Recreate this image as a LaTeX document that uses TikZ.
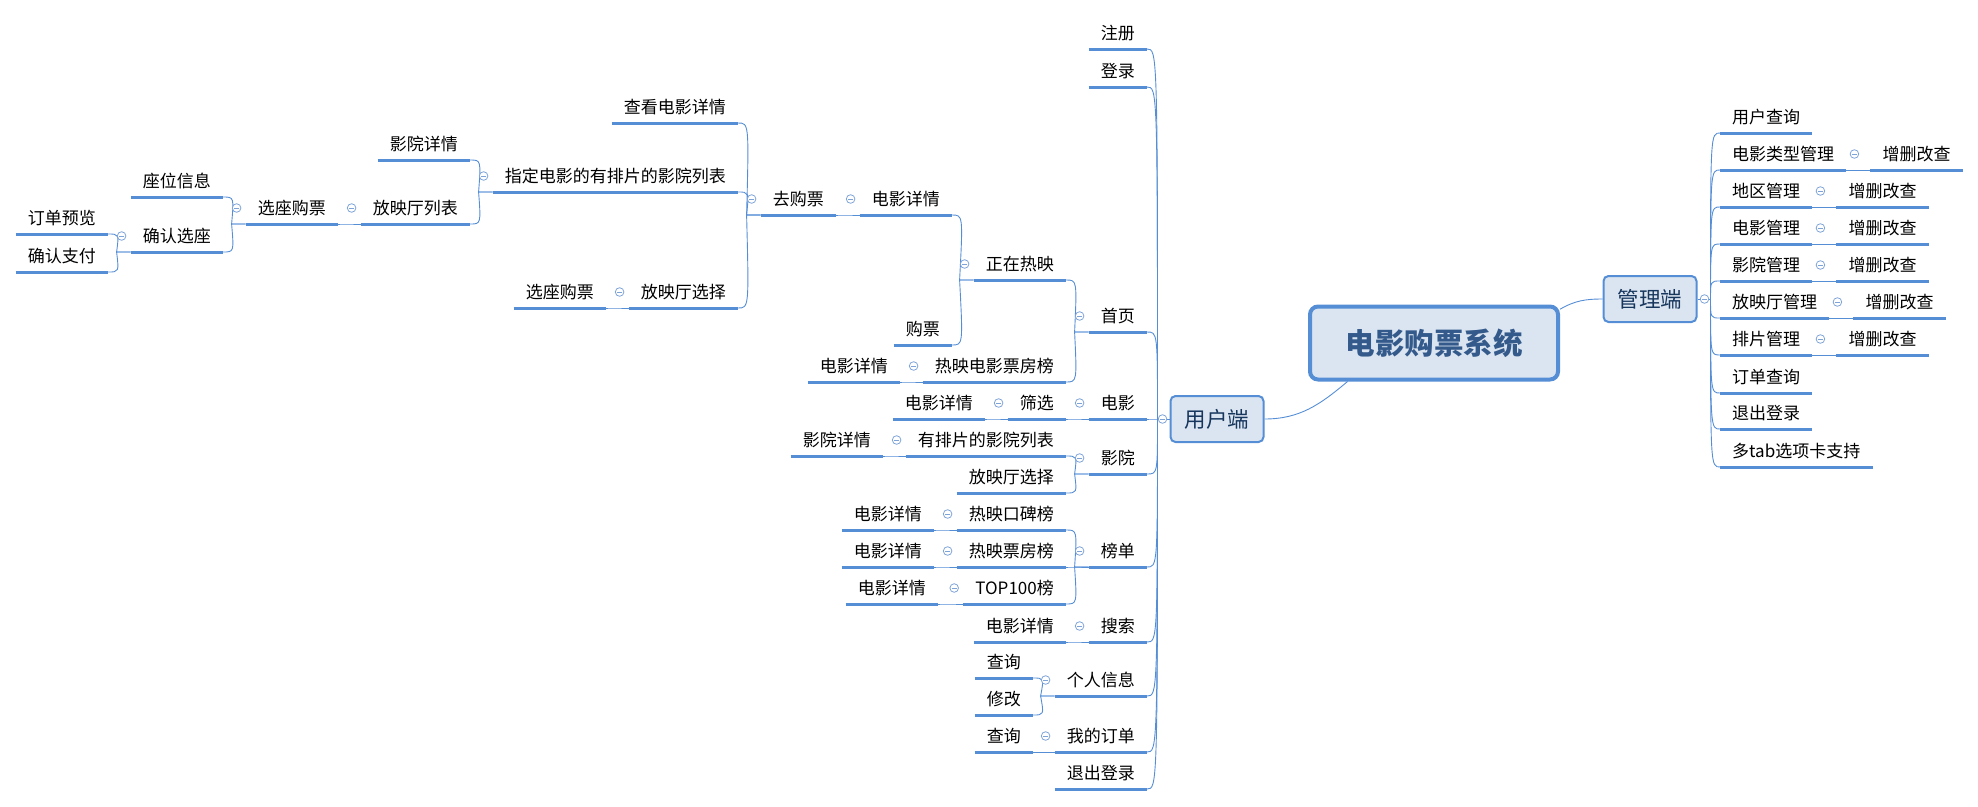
\documentclass[tikz,border=0pt]{standalone}
\usepackage{fontspec}
\setmainfont{Noto Sans CJK SC}

\definecolor{lineblue}{HTML}{558ED5}
\definecolor{boxfill}{HTML}{DBE5F1}
\definecolor{boxtext}{HTML}{17365D}
\definecolor{roottext}{HTML}{345A8C}
\definecolor{foldblue}{HTML}{7EA3D8}

\tikzset{
  topic/.style={font=\fontsize{17}{20}\selectfont, inner xsep=12pt, inner ysep=0pt,
    text height=15pt, text depth=9.5pt,
    append after command={(\tikzlastnode.south west) edge[draw=lineblue, line width=3pt] (\tikzlastnode.south east)}},
  lt/.style={topic, anchor=south east},
  rt/.style={topic, anchor=south west},
  box/.style={draw=lineblue, fill=boxfill, line width=2pt, rounded corners=5pt,
    minimum width=93pt, minimum height=46pt, text=boxtext, font=\fontsize{21.5}{24}\selectfont},
  root/.style={draw=lineblue, fill=boxfill, line width=4pt, rounded corners=8pt,
    minimum width=248pt, minimum height=73pt, text=roottext, font=\fontsize{29.5}{32}\selectfont\bfseries},
  link/.style={draw=lineblue, line width=0.9pt},
  fold/.style={draw=foldblue, line width=0.8pt, fill=white}
}

% collapse mark
\newcommand{\foldat}[1]{\draw[fold] #1 circle (4.3pt); \draw[draw=foldblue, line width=0.8pt] #1 ++(-2.3pt,0) -- ++(4.6pt,0);}
\newcommand{\foldl}[1]{\foldat{([shift={(-9pt,16pt)}]#1.south west)}}
\newcommand{\foldr}[1]{\foldat{([shift={(8pt,16pt)}]#1.south east)}}
% child -> parent, left side
\newcommand{\lk}[2]{\draw[link] (#1.south east) .. controls +(11,0) .. ([xshift=-14pt]#2.south west) -- (#2.south west)}

\begin{document}
\begin{tikzpicture}[x=1pt, y=1pt]
  \useasboundingbox (0,0) rectangle (1978,-806);

  \node[root] (root) at (1434,-343) {电影购票系统};
  \node[box] (usr) at (1217,-419) {用户端};
  \node[box] (adm) at (1650,-299) {管理端};
  \draw[link] (root.204) to[out=220, in=0] (usr.east);
  \draw[link] (root.15) to[out=30, in=180] (adm.west);

  % user side
  \node[lt] (zc) at (1147,-49) {注册};
  \node[lt] (dl) at (1147,-87) {登录};
  \node[lt] (sy) at (1147,-332) {首页};
  \node[lt] (dy) at (1147,-419) {电影};
  \node[lt] (yy) at (1147,-474) {影院};
  \node[lt] (bd) at (1147,-567) {榜单};
  \node[lt] (ss) at (1147,-642) {搜索};
  \node[lt] (gr) at (1147,-696) {个人信息};
  \node[lt] (dd) at (1147,-752) {我的订单};
  \node[lt] (tc) at (1147,-789) {退出登录};

  \node[lt] (zr) at (1066,-280) {正在热映};
  \node[lt] (pf) at (1066,-382) {热映电影票房榜};
  \node[lt] (sx) at (1066,-419) {筛选};
  \node[lt] (pl) at (1066,-456) {有排片的影院列表};
  \node[lt] (tx) at (1066,-493) {放映厅选择};
  \node[lt] (kb) at (1066,-530) {热映口碑榜};
  \node[lt] (pb) at (1066,-567) {热映票房榜};
  \node[lt] (tp) at (1066,-604) {TOP100榜};
  \node[lt] (ssd) at (1066,-642) {电影详情};
  \node[lt] (cx1) at (1033,-678) {查询};
  \node[lt] (xg) at (1033,-715) {修改};
  \node[lt] (cx2) at (1033,-752) {查询};

  \node[lt] (xq1) at (952,-215) {电影详情};
  \node[lt] (gp) at (952,-345) {购票};
  \node[lt] (xq2) at (900,-382) {电影详情};
  \node[lt] (xq3) at (985,-419) {电影详情};
  \node[lt] (yx1) at (883,-456) {影院详情};
  \node[lt] (xq4) at (934,-530) {电影详情};
  \node[lt] (xq5) at (934,-567) {电影详情};
  \node[lt] (xq6) at (938,-604) {电影详情};

  \node[lt] (qg) at (836,-215) {去购票};
  \node[lt] (ck) at (738,-123) {查看电影详情};
  \node[lt] (zd) at (738,-192) {指定电影的有排片的影院列表};
  \node[lt] (tx2) at (738,-308) {放映厅选择};
  \node[lt] (xz1) at (606,-308) {选座购票};
  \node[lt] (yx2) at (470,-160) {影院详情};
  \node[lt] (tl) at (470,-224) {放映厅列表};
  \node[lt] (xz2) at (338,-224) {选座购票};
  \node[lt] (zw) at (223,-197) {座位信息};
  \node[lt] (qr) at (223,-252) {确认选座};
  \node[lt] (yl) at (108,-234) {订单预览};
  \node[lt] (zf) at (108,-272) {确认支付};

  \coordinate (ju) at ([xshift=-12pt]usr.west);
  \draw[link] (ju) -- (usr.west);
  \foreach \c in {zc,dl,sy,dy,yy,bd,ss,gr,dd,tc}
    \draw[link] (\c.south east) .. controls (ju |- \c.south east) .. (ju);
  \foreach \c/\p in {zr/sy, pf/sy, sx/dy, pl/yy, tx/yy, kb/bd, pb/bd, tp/bd, ssd/ss,
      cx1/gr, xg/gr, cx2/dd, xq1/zr, gp/zr, xq2/pf, xq3/sx, yx1/pl, xq4/kb, xq5/pb,
      xq6/tp, qg/xq1, ck/qg, zd/qg, tx2/qg, yx2/zd, tl/zd, xz1/tx2, xz2/tl, zw/xz2,
      qr/xz2, yl/qr, zf/qr}
    {\lk{\c}{\p};}

  % admin side
  \node[rt] (yh) at (1720,-133) {用户查询};
  \node[rt] (lx) at (1720,-170) {电影类型管理};
  \node[rt] (dq) at (1720,-207) {地区管理};
  \node[rt] (dm) at (1720,-244) {电影管理};
  \node[rt] (ym) at (1720,-281) {影院管理};
  \node[rt] (fm) at (1720,-318) {放映厅管理};
  \node[rt] (pp) at (1720,-355) {排片管理};
  \node[rt] (dc) at (1720,-393) {订单查询};
  \node[rt] (tu) at (1720,-429) {退出登录};
  \node[rt] (dt) at (1720,-467) {多tab选项卡支持};
  \foreach \p/\c in {lx/c1, dq/c2, dm/c3, ym/c4, fm/c5, pp/c6} {
    \node[rt] (\c) at ([xshift=24pt]\p.south east) {增删改查};
    \draw[link] (\p.south east) -- (\c.south west);
  }

  \coordinate (ja) at ([xshift=13pt]adm.east);
  \draw[link] (adm.east) -- (ja);
  \foreach \c in {yh,lx,dq,dm,ym,fm,pp,dc,tu,dt}
    \draw[link] (ja) .. controls (ja |- \c.south west) .. (\c.south west);

  % collapse marks
  \foreach \n in {sy,dy,yy,bd,ss,gr,dd,zr,pf,sx,pl,kb,pb,tp,xq1,qg,zd,tx2,tl,xz2,qr}
    {\foldl{\n}}
  \foreach \n in {lx,dq,dm,ym,fm,pp}
    {\foldr{\n}}
  \foldat{([xshift=-7pt]usr.west)}
  \foldat{([xshift=7pt]adm.east)}
\end{tikzpicture}
\end{document}
